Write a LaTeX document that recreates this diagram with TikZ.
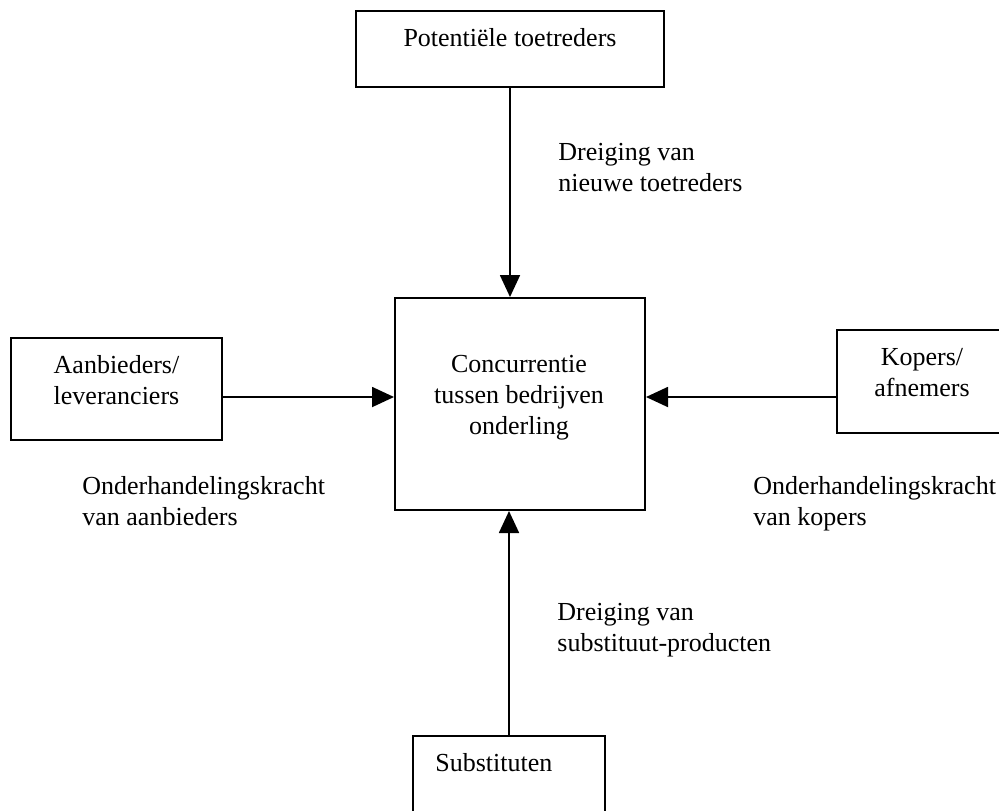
\documentclass[tikz,border=0pt]{standalone}
\usepackage{fontspec}
\setmainfont{Liberation Serif}
\usetikzlibrary{arrows.meta,fit}
\begin{document}
\begin{tikzpicture}[x=0.5pt,y=-0.5pt,
  box/.style={draw=black,line width=1pt,inner sep=0pt},
  txt/.style={inner sep=0pt,align=center,font=\fontsize{13pt}{15.5pt}\selectfont},
  lbl/.style={inner sep=0pt,align=left,anchor=base west,font=\fontsize{13pt}{15.5pt}\selectfont},
  arr/.style={line width=0.9pt,-{Triangle[length=11pt,width=10pt]}}]
\useasboundingbox[fill=white] (0,0) rectangle (999,810);
\node[box,fit={(356,11) (664,87)}] (top) {};
\node[box,fit={(11,338) (222,440)}] (left) {};
\node[box,fit={(395,298) (645,510)}] (mid) {};
\node[box,fit={(837,330) (1010,433)}] (right) {};
\node[box,fit={(413,736) (605,830)}] (bot) {};
\node[txt,anchor=base] (ttop) at (510,46) {Potentiële toetreders};
\node[txt,anchor=base] (tleft) at (116.5,404) {Aanbieders/\\leveranciers};
\node[txt,anchor=base] (tmid) at (519,434) {Concurrentie\\tussen bedrijven\\onderling};
\node[txt,anchor=base] (tright) at (922,396) {Kopers/\\afnemers};
\node[txt,anchor=base west] (tbot) at (435,771) {Substituten};
\node[lbl] (l1) at (558,191) {Dreiging van\\nieuwe toetreders};
\node[lbl] (l2) at (82,525) {Onderhandelingskracht\\van aanbieders};
\node[lbl] (l3) at (753,525) {Onderhandelingskracht\\van kopers};
\node[lbl] (l4) at (557,651) {Dreiging van\\substituut-producten};
\coordinate (ly) at (0,397);
\draw[arr] (top.south) -- (top.south |- mid.north);
\draw[arr] (bot.north) -- (bot.north |- mid.south);
\draw[arr] (left.east |- ly) -- (mid.west |- ly);
\draw[arr] (right.west |- ly) -- (mid.east |- ly);
\end{tikzpicture}
\end{document}
